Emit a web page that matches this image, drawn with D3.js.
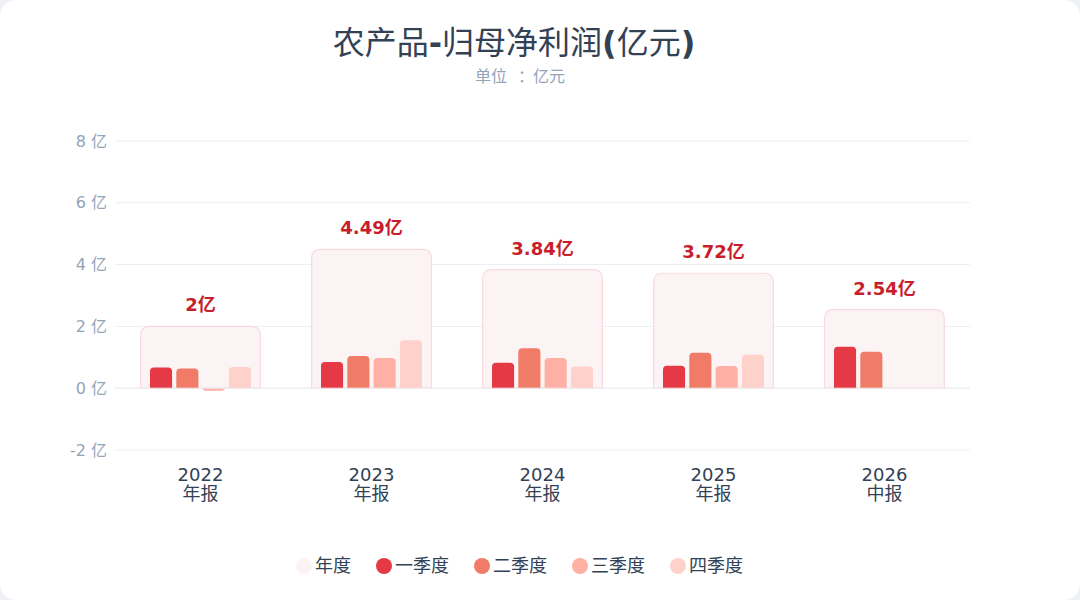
<!DOCTYPE html>
<html><head><meta charset="utf-8">
<script src="https://cdn.jsdelivr.net/npm/d3@7/dist/d3.min.js"></script>
<style>
html,body{margin:0;padding:0;background:#eef0f4;}
svg{display:block;}
text{font-family:"DejaVu Sans","Noto Sans CJK SC",sans-serif;}
</style></head><body>
<svg id="c" width="1080" height="600"></svg>
<script>
const categories = ["2022","2023","2024","2025","2026"];
const periodLabels = ["年报","年报","年报","年报","中报"];
const annual = [2.00, 4.49, 3.84, 3.72, 2.54];
const annualLabels = ["2亿","4.49亿","3.84亿","3.72亿","2.54亿"];
const q1 = [0.67, 0.85, 0.82, 0.73, 1.34];
const q2 = [0.64, 1.04, 1.29, 1.15, 1.18];
const q3 = [-0.08, 0.98, 0.98, 0.72, null];
const q4 = [0.69, 1.55, 0.70, 1.08, null];
const quarterNames = ["一季度","二季度","三季度","四季度"];
const legendNames = ["年度","一季度","二季度","三季度","四季度"];
const yTicks = [-2, 0, 2, 4, 6, 8];
const title = "农产品-归母净利润(亿元)";
const subtitle = "单位：亿元";

const qColors = ["#e63946","#f07b67","#fdb0a3","#fed2ca"];
const annualFill = "#fcf3f4", annualStroke = "#f7dadf";
const FONT = '"DejaVu Sans","Noto Sans CJK SC",sans-serif';

const svg = d3.select("#c");
svg.append("rect").attr("width",1080).attr("height",600).attr("rx",16).attr("fill","#ffffff");

// title: latin glyphs bold, CJK glyphs regular (as in reference)
const tt = svg.append("text").attr("x",514).attr("y",54).attr("text-anchor","middle")
  .attr("font-size",32).attr("fill","#334155");
title.match(/[\u4e00-\u9fff]+|[^\u4e00-\u9fff]+/g).forEach(part=>{
  tt.append("tspan").attr("font-weight", /[\u4e00-\u9fff]/.test(part) ? "normal" : "bold").text(part);
});
const st = svg.append("text").attr("x",520).attr("y",82).attr("text-anchor","middle")
  .attr("font-size",16).attr("fill","#94a3b8");
const sp = subtitle.split("：");
st.append("tspan").text(sp[0]);
st.append("tspan").attr("dx",11).text("：");
st.append("tspan").attr("dx",-1).text(sp[1]);

const x = d3.scaleBand().domain(categories).range([115,970]).paddingInner(0.3).paddingOuter(0.15);
const y = d3.scaleLinear().domain([-2,8]).range([450,141]);
const xq = d3.scaleBand().domain(quarterNames).range([0,x.bandwidth()]).paddingInner(0.16).paddingOuter(0.355);

// grid
svg.append("g").selectAll("line").data(yTicks).join("line")
  .attr("x1",115).attr("x2",970).attr("y1",d=>y(d)).attr("y2",d=>y(d))
  .attr("stroke","#eceef3").attr("stroke-width",1);

// y axis
const yAxis = d3.axisLeft(y).tickValues(yTicks).tickFormat(d=>d+" 亿").tickSize(0).tickPadding(8);
const gy = svg.append("g").attr("transform","translate(115,0)").call(yAxis);
gy.select(".domain").remove();
gy.selectAll("text").attr("font-size",16).attr("fill","#94a3b8").attr("font-family",FONT);

// x axis labels
const xAxis = d3.axisBottom(x).tickSize(0).tickPadding(0);
const gx = svg.append("g").attr("transform","translate(0,450)").call(xAxis);
gx.select(".domain").remove();
gx.selectAll(".tick text").each(function(d,i){
  const t = d3.select(this);
  t.text(null).attr("y",0).attr("dy",null).attr("font-size",18).attr("fill","#334155")
   .attr("font-family",FONT);
  t.append("tspan").attr("x",0).attr("y",31).text(d);
  t.append("tspan").attr("x",0).attr("y",50).text(periodLabels[i]);
});

// rounded-end bar path
function barPath(x0,w,v0,v1,r){
  const yt = y(v1), yb = y(v0);
  const h = Math.abs(yb-yt);
  const rr = Math.min(r,h, w/2);
  if (v1 >= v0){
    return `M${x0},${yb}V${yt+rr}Q${x0},${yt} ${x0+rr},${yt}H${x0+w-rr}Q${x0+w},${yt} ${x0+w},${yt+rr}V${yb}Z`;
  } else {
    return `M${x0},${yb}V${yt-rr}Q${x0},${yt} ${x0+rr},${yt}H${x0+w-rr}Q${x0+w},${yt} ${x0+w},${yt-rr}V${yb}Z`;
  }
}

// annual boxes
const ann = categories.map((c,i)=>({c, v:annual[i], lab:annualLabels[i]}));
svg.append("g").selectAll("path").data(ann).join("path")
  .attr("d",d=>barPath(x(d.c), x.bandwidth(), 0, d.v, 9))
  .attr("fill",annualFill).attr("stroke",annualStroke).attr("stroke-width",1.2);

// quarterly bars
const qs = [q1,q2,q3,q4];
const qData = [];
categories.forEach((c,i)=>{
  qs.forEach((arr,k)=>{ if(arr[i]!==null) qData.push({c, k, v:arr[i]}); });
});
svg.append("g").selectAll("path").data(qData).join("path")
  .attr("d",d=>barPath(x(d.c)+xq(quarterNames[d.k]), xq.bandwidth(), 0, d.v, 4))
  .attr("fill",d=>qColors[d.k]);

// zero line overlay
svg.append("line").attr("x1",115).attr("x2",970).attr("y1",y(0)).attr("y2",y(0))
  .attr("stroke","#eceef3").attr("stroke-width",1);

// annual labels
svg.append("g").selectAll("text").data(ann).join("text")
  .attr("x",d=>x(d.c)+x.bandwidth()/2).attr("y",d=>y(d.v)-15)
  .attr("text-anchor","middle").attr("font-size",18).attr("font-weight","bold")
  .attr("fill","#c81e2c").text(d=>d.lab);

// legend
const lg = svg.append("g");
const lColors = [annualFill].concat(qColors);
let cx = 304;
legendNames.forEach((n,i)=>{
  lg.append("circle").attr("cx",cx).attr("cy",566).attr("r",8).attr("fill",lColors[i]);
  const t = lg.append("text").attr("x",cx+11).attr("y",572).attr("font-size",18).attr("fill","#334155").text(n);
  const w = t.node().getComputedTextLength();
  cx = cx + 11 + w + 33;
});
</script>
</body></html>
